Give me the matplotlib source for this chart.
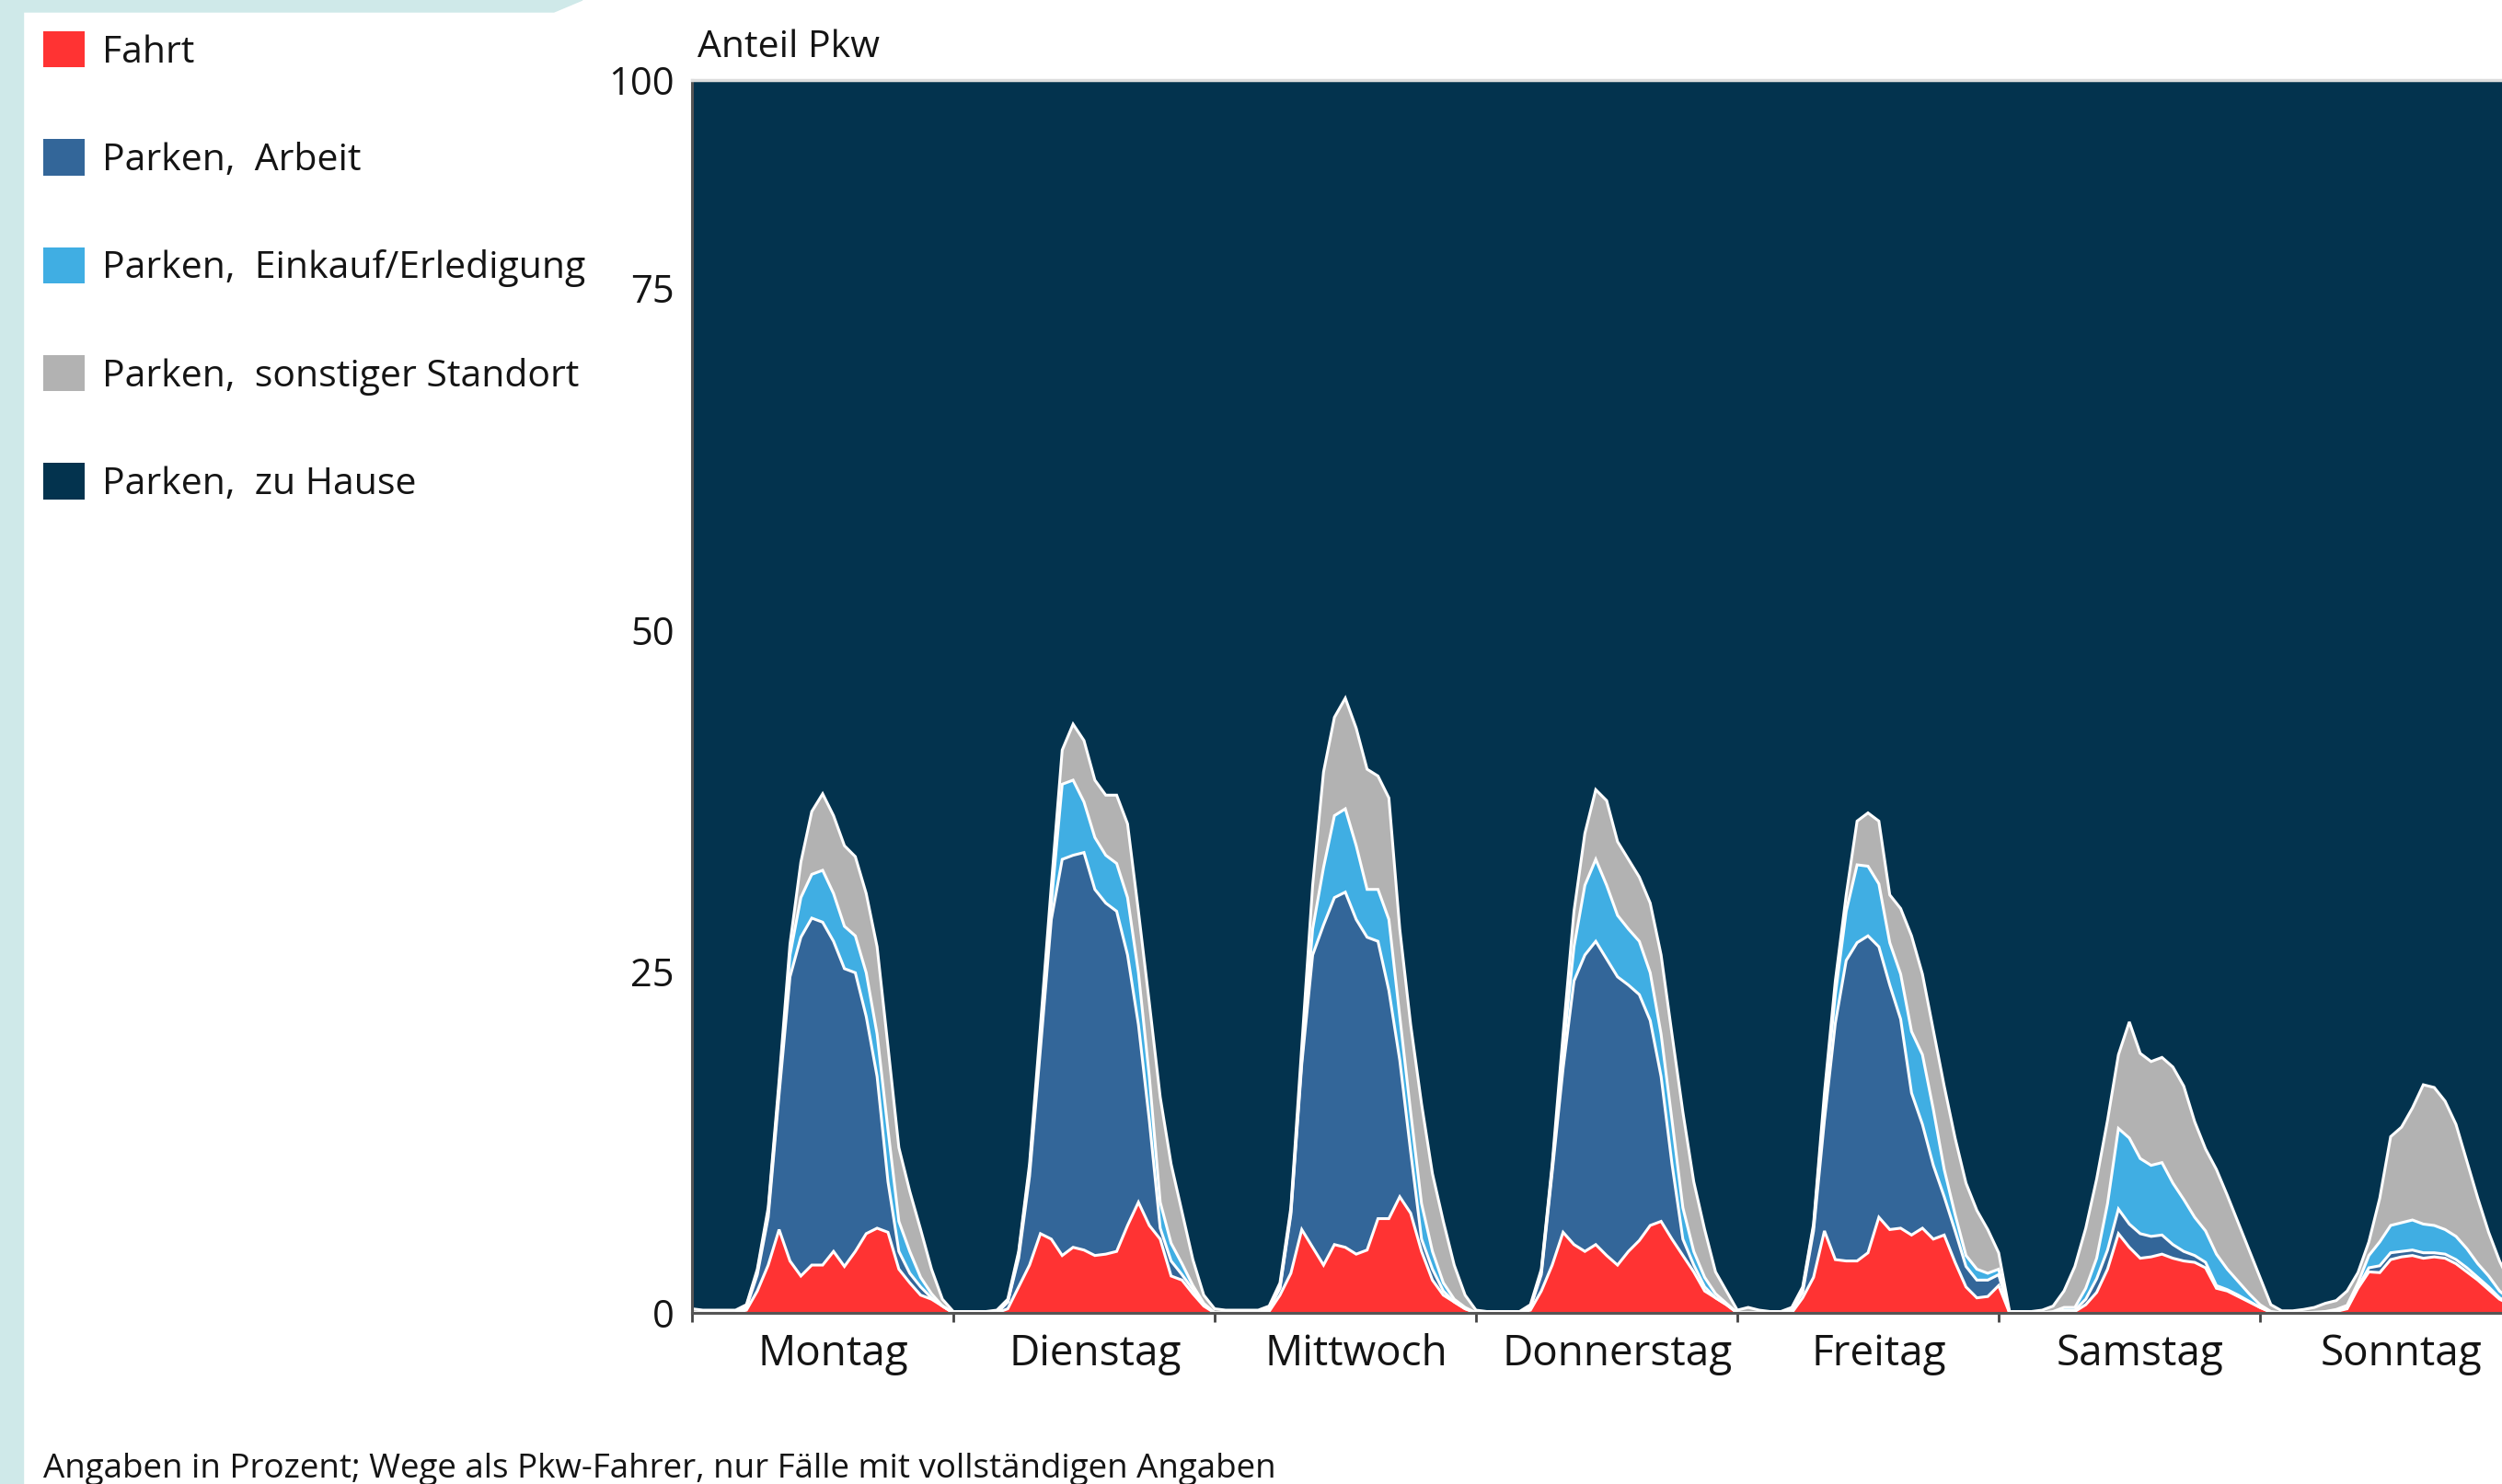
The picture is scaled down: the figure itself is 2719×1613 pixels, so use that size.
import numpy as np
import matplotlib.pyplot as plt
from matplotlib.patches import Rectangle, Polygon

plt.rcParams['font.family'] = ['Open Sans', 'DejaVu Sans']

tage = ["Montag", "Dienstag", "Mittwoch", "Donnerstag", "Freitag", "Samstag", "Sonntag"]
serien = ["Fahrt", "Parken,  Arbeit", "Parken,  Einkauf/Erledigung",
          "Parken,  sonstiger Standort", "Parken,  zu Hause"]
farben = ["#FF3333", "#336699", "#40AEE3", "#B2B2B2", "#03334E"]

# Stundenwerte (0-23 Uhr je Tag, letzter Wert = Ende Sonntag), Anteil in %
fahrt = [
    0, 0, 0, 0, 0, 0.2, 1.6, 3.5, 6.1, 3.8, 2.7, 3.5, 3.5, 4.5, 3.4, 4.5, 5.8, 6.2, 5.9, 3.2, 2.2, 1.3, 1.0, 0.5,
    0, 0, 0, 0, 0, 0.3, 1.9, 3.5, 5.8, 5.4, 4.2, 4.8, 4.6, 4.2, 4.3, 4.5, 6.4, 8.1, 6.4, 5.4, 2.7, 2.4, 1.4, 0.5,
    0, 0, 0, 0, 0, 0.1, 1.3, 2.9, 6.1, 4.8, 3.5, 5.0, 4.8, 4.3, 4.6, 6.9, 6.9, 8.5, 7.3, 4.5, 2.4, 1.3, 0.8, 0.3,
    0, 0, 0, 0, 0, 0.2, 1.6, 3.5, 5.9, 5.0, 4.5, 5.0, 4.2, 3.5, 4.5, 5.3, 6.4, 6.7, 5.4, 4.2, 3.0, 1.6, 1.1, 0.6,
    0, 0, 0, 0, 0, 0, 1.1, 2.6, 6.0, 3.9, 3.8, 3.8, 4.4, 7.0, 6.1, 6.2, 5.7, 6.2, 5.4, 5.7, 3.7, 1.9, 1.1, 1.2,
    2.0, 0, 0, 0, 0, 0, 0.1, 0.1, 0.6, 1.5, 3.2, 5.8, 4.8, 4.0, 4.1, 4.3, 4.0, 3.8, 3.7, 3.3, 1.8, 1.6, 1.2, 0.8,
    0.4, 0.05, 0, 0, 0, 0, 0.05, 0.1, 0.3, 1.8, 3.0, 2.95, 3.9, 4.1, 4.2, 4.0, 4.1, 4.0, 3.6, 3.0, 2.4, 1.7, 1.0, 0.6,
    0.2,
]
arbeit = [
    0, 0, 0, 0, 0, 0.2, 1.2, 3.5, 9.9, 20.8, 24.8, 25.4, 25.1, 22.7, 21.8, 20.4, 15.9, 11.1, 3.7, 1.3, 0.7, 0.6, 0.1, 0,
    0, 0, 0, 0, 0, 0.5, 2.1, 6.5, 13.5, 23.4, 29.0, 28.7, 29.1, 26.8, 25.7, 24.9, 19.8, 13.0, 7.7, 0.8, 1.1, 0.4, 0.3, 0.1,
    0, 0, 0, 0, 0, 0.2, 0.5, 4.3, 12.1, 21.4, 24.9, 25.4, 26.0, 24.5, 22.9, 20.3, 16.7, 10.0, 4.5, 0.9, 0.8, 0.3, 0, 0,
    0, 0, 0, 0, 0, 0.2, 1.2, 6.8, 12.0, 19.3, 21.7, 22.2, 21.7, 21.1, 19.5, 18.0, 15.0, 10.6, 5.5, 1.2, 0.5, 0.3, 0, 0,
    0, 0, 0, 0, 0, 0.2, 0.4, 3.4, 8.1, 17.3, 22.0, 23.3, 23.2, 19.8, 17.9, 15.3, 10.4, 7.6, 5.4, 2.8, 2.3, 1.5, 1.3, 1.2,
    0.8, 0, 0, 0, 0, 0, 0.1, 0.1, 0.4, 1.0, 1.4, 1.8, 1.7, 1.8, 1.5, 1.4, 1.0, 0.7, 0.5, 0.4, 0.2, 0.1, 0.1, 0.05,
    0, 0, 0, 0, 0, 0, 0, 0.05, 0.05, 0.1, 0.3, 0.5, 0.5, 0.4, 0.4, 0.4, 0.3, 0.3, 0.3, 0.3, 0.2, 0.2, 0.1, 0.05,
    0,
]
einkauf = [
    0, 0, 0, 0, 0, 0.1, 0.2, 0.4, 0.5, 1.6, 2.9, 3.2, 3.8, 3.5, 3.1, 2.7, 3.2, 3.1, 3.8, 2.2, 1.6, 0.7, 0.3, 0,
    0, 0, 0, 0, 0, 0, 0.3, 0.5, 0.7, 1.2, 5.5, 5.5, 3.7, 3.8, 3.5, 3.5, 4.2, 3.8, 3.2, 1.9, 1.3, 0.8, 0.3, 0.1,
    0, 0, 0, 0, 0, 0, 0.1, 0.2, 0.3, 1.9, 4.2, 6.0, 6.1, 5.4, 3.5, 3.8, 5.2, 3.2, 2.9, 2.6, 1.3, 0.6, 0.2, 0.1,
    0, 0, 0, 0, 0, 0, 0.2, 0.3, 1.3, 2.5, 5.1, 6.0, 5.4, 4.5, 4.1, 3.9, 3.5, 3.1, 3.2, 2.3, 1.0, 0.7, 0.3, 0.1,
    0, 0, 0, 0, 0, 0, 0.2, 0.3, 1.3, 2.1, 3.6, 5.7, 5.1, 4.6, 3.1, 3.3, 4.5, 5.1, 4.1, 2.0, 1.2, 0.8, 0.8, 0.5,
    0.4, 0, 0, 0, 0, 0.1, 0.2, 0.2, 0.8, 1.5, 3.4, 5.9, 6.3, 5.5, 5.2, 5.3, 4.5, 3.8, 2.8, 2.3, 2.3, 1.5, 1.0, 0.55,
    0.2, 0.05, 0, 0, 0, 0.05, 0.05, 0.1, 0.2, 0.3, 0.9, 1.75, 2.0, 2.1, 2.2, 2.1, 2.0, 1.8, 1.7, 1.4, 1.0, 0.8, 0.5, 0.3,
    0.1,
]
sonstiger = [
    0.3, 0.2, 0.2, 0.2, 0.2, 0.1, 0.2, 0.3, 0.5, 0.8, 2.6, 4.6, 5.6, 5.7, 5.9, 5.8, 5.8, 6.4, 6.1, 5.4, 4.4, 3.5, 1.8, 0.5,
    0.1, 0.1, 0.1, 0.1, 0.2, 0.2, 0.2, 0.4, 1.0, 1.3, 2.5, 4.1, 4.5, 4.2, 4.4, 5.0, 5.4, 4.5, 5.4, 7.7, 5.8, 3.8, 1.9, 0.6,
    0.3, 0.2, 0.2, 0.2, 0.2, 0.2, 0.3, 0.3, 1.0, 3.2, 7.0, 7.2, 8.1, 8.6, 8.8, 8.3, 8.9, 6.4, 6.4, 7.3, 5.7, 4.5, 2.5, 0.9,
    0.2, 0.1, 0.1, 0.1, 0.1, 0.2, 0.2, 0.3, 1.2, 2.6, 3.8, 5.1, 6.2, 5.4, 5.1, 4.7, 5.1, 5.8, 6.3, 7.0, 5.1, 3.5, 1.6, 0.9,
    0.2, 0.4, 0.2, 0.1, 0.1, 0.2, 0.2, 0.2, 0.7, 1.0, 1.2, 3.2, 3.9, 4.6, 3.5, 4.8, 7.0, 5.9, 5.8, 6.1, 5.6, 5.3, 4.3, 3.2,
    1.2, 0.1, 0.1, 0.1, 0.2, 0.4, 1.2, 3.0, 4.4, 5.8, 6.1, 5.4, 8.5, 7.7, 7.6, 7.7, 8.5, 8.3, 7.0, 6.0, 6.2, 5.4, 4.3, 3.2,
    2.0, 0.5, 0.15, 0.15, 0.25, 0.35, 0.6, 0.65, 1.05, 0.75, 1.0, 3.2, 6.5, 7.0, 8.2, 10.2, 10.1, 9.4, 8.2, 6.4, 4.8, 3.2, 2.2, 1.2,
    0.4,
]

stunden = np.arange(len(fahrt))
unterwegs = np.array(fahrt) + np.array(arbeit) + np.array(einkauf) + np.array(sonstiger)
zu_hause = 100 - unterwegs


def vorwaerts(v):
    v = np.asarray(v, dtype=float)
    return np.where(v <= 75, v, 75 + (v - 75) * 0.61)


def rueckwaerts(v):
    v = np.asarray(v, dtype=float)
    return np.where(v <= 75, v, 75 + (v - 75) / 0.61)


fig = plt.figure(figsize=(27.19, 16.13), dpi=100)

# tuerkise Randstreifen
fig.patches.append(Rectangle((0, 0), 25 / 2719, 1, transform=fig.transFigure,
                             color="#CFE9E9", zorder=0))
fig.patches.append(Polygon([(0, 1), (633 / 2719, 1), (602 / 2719, 1 - 13 / 1613), (0, 1 - 13 / 1613)],
                           closed=True, transform=fig.transFigure, color="#CFE9E9", zorder=0))

ax = fig.add_axes([752 / 2719, 186 / 1613, 1988 / 2719, 1340 / 1613])
ax.set_yscale("function", functions=(vorwaerts, rueckwaerts))

polys = ax.stackplot(stunden, fahrt, arbeit, einkauf, sonstiger, zu_hause,
                     colors=farben, linewidth=0)
kum = np.cumsum(np.vstack([fahrt, arbeit, einkauf, sonstiger]), axis=0)
for k in range(4):
    ax.plot(stunden, kum[k], color="white", lw=2.2, solid_joinstyle="miter")

ax.set_xlim(0, 168)
ax.set_ylim(0, 100)
ax.set_yticks([0, 25, 50, 75, 100])
ax.set_yticklabels(["0", "25", "50", "75", "100"])
ax.tick_params(axis="y", length=0, pad=14, labelsize=30, labelcolor="#141414")

ax.set_xticks(np.arange(0, 169, 24))
ax.set_xticklabels([])
ax.set_xticks(np.arange(13, 168, 24), minor=True)
ax.set_xticklabels(tage, minor=True)
ax.tick_params(axis="x", which="major", direction="out", length=7, width=2, color="#444444")
ax.tick_params(axis="x", which="minor", length=0, pad=16, labelsize=33, labelcolor="#141414")

for s in ["left", "bottom"]:
    ax.spines[s].set_color("#555555")
    ax.spines[s].set_linewidth(2.2)
ax.spines["top"].set_color("#DDDDDD")
ax.spines["top"].set_linewidth(2.5)
ax.spines["right"].set_visible(False)

fig.text(758 / 2719, 1 - 52 / 1613, "Anteil Pkw", fontsize=29.5, color="#141414", va="center")

fig.legend(polys, serien, loc="upper left", bbox_to_anchor=(47 / 2719, 1 - 34 / 1613),
           frameon=False, fontsize=29.5, handlelength=1.1, handleheight=1.1,
           handletextpad=0.45, labelspacing=1.8, borderpad=0, borderaxespad=0,
           labelcolor="#141414")

fig.text(47 / 2719, 16 / 1613, "Angaben in Prozent; Wege als Pkw-Fahrer, nur Fälle mit vollständigen Angaben",
         fontsize=26.5, color="#141414", va="center")

fig.savefig("out.png", dpi=100)
